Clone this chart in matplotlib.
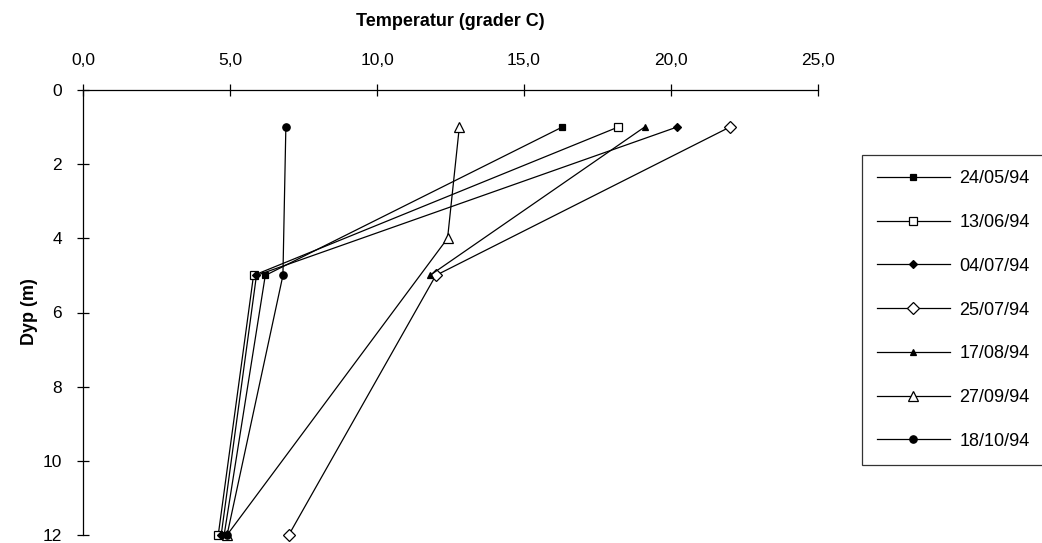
import matplotlib
matplotlib.use('Agg')
import matplotlib.pyplot as plt
from matplotlib.ticker import FuncFormatter

plt.rcParams['font.family'] = ['Liberation Sans', 'DejaVu Sans']

# data (temperature in C, depth in m)
labels = ['24/05/94', '13/06/94', '04/07/94', '25/07/94', '17/08/94', '27/09/94', '18/10/94']
depths = [
    [1, 5, 12],
    [1, 5, 12],
    [1, 5, 12],
    [1, 5, 12],
    [1, 5],
    [1, 4, 12],
    [1, 5, 12],
]
temps = [
    [16.3, 6.2, 4.8],
    [18.2, 5.8, 4.6],
    [20.2, 5.9, 4.7],
    [22.0, 12.0, 7.0],
    [19.1, 11.8],
    [12.8, 12.4, 4.9],
    [6.9, 6.8, 4.9],
]
x_ticks = [0, 5, 10, 15, 20, 25]
y_ticks = [0, 2, 4, 6, 8, 10, 12]

# marker styles: (marker, filled, size)
styles = [('s', True, 5), ('s', False, 6), ('D', True, 4.5), ('D', False, 6.5),
          ('^', True, 5), ('^', False, 7), ('o', True, 5.3)]

W, H = 1042, 543
fig = plt.figure(figsize=(W / 100, H / 100), dpi=100)
ax = fig.add_axes([83 / W, 1 - 535 / H, (818 - 83) / W, (535 - 90) / H])

for i in range(len(labels)):
    m, filled, ms = styles[i]
    ax.plot(temps[i], depths[i], color='black', linewidth=0.9, marker=m,
            markersize=ms, markerfacecolor='black' if filled else 'white',
            markeredgecolor='black', markeredgewidth=0.9, label=labels[i],
            clip_on=False, zorder=3)

ax.set_xlim(0, 25)
ax.set_ylim(12, 0)
ax.set_xticks(x_ticks)
ax.set_yticks(y_ticks)
ax.xaxis.set_major_formatter(FuncFormatter(lambda v, p: f'{v:.1f}'.replace('.', ',')))
ax.xaxis.tick_top()
ax.tick_params(axis='both', direction='inout', length=8, width=0.9, labelsize=12.5, colors='black')
ax.tick_params(axis='x', pad=11.5)
ax.tick_params(axis='y', pad=11)
for s in ['right', 'bottom']:
    ax.spines[s].set_visible(False)
for s in ['left', 'top']:
    ax.spines[s].set_linewidth(0.9)

fig.text(450 / W, 1 - 22 / H, 'Temperatur (grader C)', ha='center', va='center',
         fontsize=13, fontweight='bold')
fig.text(30 / W, 1 - 312 / H, 'Dyp (m)', ha='center', va='center', rotation=90,
         fontsize=13, fontweight='bold')

leg = fig.legend(loc='upper left', bbox_to_anchor=(862 / W, 1 - 155 / H),
                 bbox_transform=fig.transFigure, fontsize=13, frameon=True,
                 fancybox=False, edgecolor='black', labelspacing=1.48,
                 handlelength=4.0, handletextpad=0.55, borderpad=0.85,
                 borderaxespad=0)
leg.get_frame().set_linewidth(0.9)

fig.savefig('out.png', dpi=100)
